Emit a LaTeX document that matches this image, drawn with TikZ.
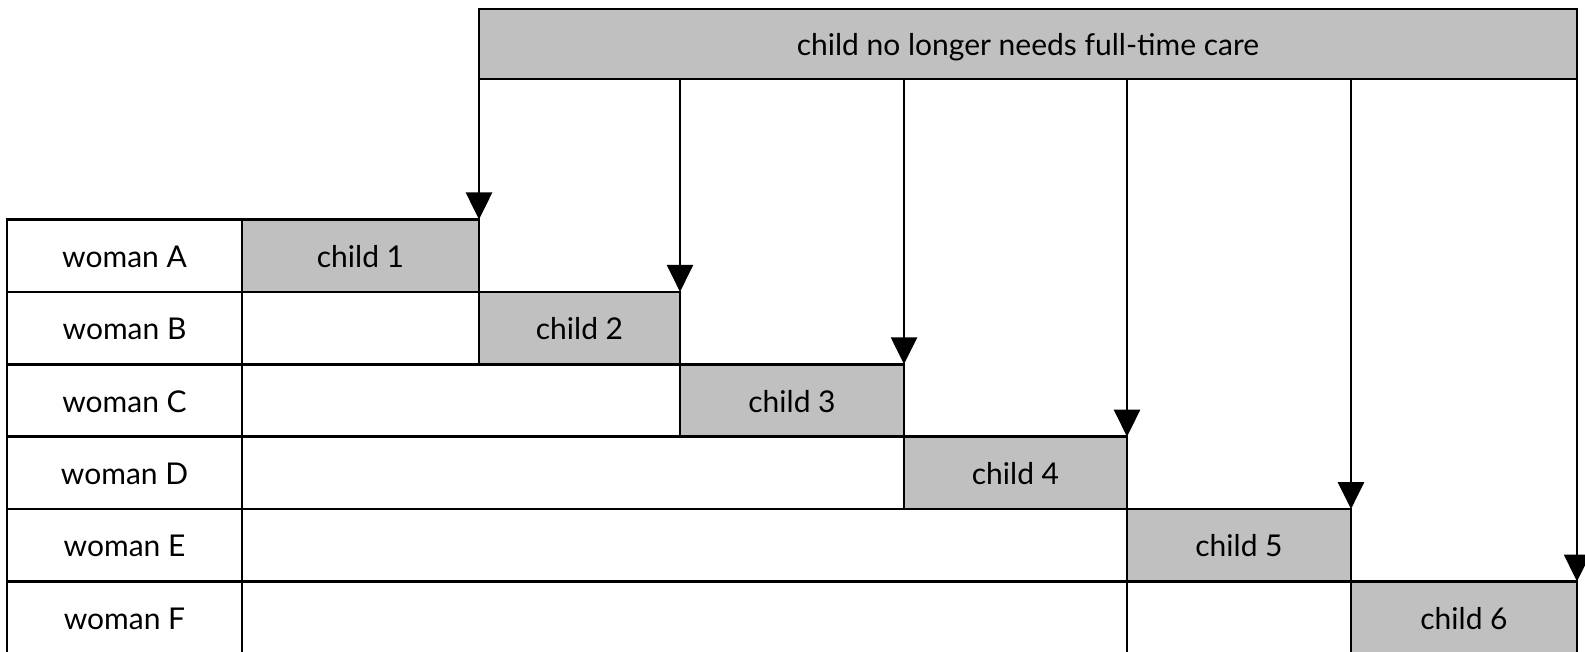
\documentclass[tikz,border=0pt]{standalone}
\usepackage{fontspec}
\setmainfont{Lato}
\usetikzlibrary{arrows.meta}
\definecolor{cellgrey}{RGB}{192,192,192}
\tikzset{
  cellbox/.style={draw=black, line width=2.6pt, minimum height=72.4pt, inner sep=0pt, outer sep=0pt, anchor=north west, font=\fontsize{30}{36}\selectfont, text height=25pt, text depth=2pt},
  greybox/.style={cellbox, fill=cellgrey},
  whitebox/.style={cellbox, fill=white},
  arr/.style={line width=2.6pt, -{Triangle[width=26pt,length=27pt]}}
}
\begin{document}
\begin{tikzpicture}[x=1pt,y=-1pt]
\useasboundingbox (0,0) rectangle (1585,652);
% top box
\node[greybox, minimum width=1098pt, minimum height=70pt] (top) at (479,9) {child no longer needs full-time care};
% row A
\node[whitebox, minimum width=235pt] (wA) at (7,219.5) {woman A};
\node[greybox, minimum width=237pt] (c1) at (242,219.5) {child 1};
% row B
\node[whitebox, minimum width=235pt] (wB) at (7,291.9) {woman B};
\node[whitebox, minimum width=237pt] (eB) at (242,291.9) {};
\node[greybox, minimum width=201pt] (c2) at (479,291.9) {child 2};
% row C
\node[whitebox, minimum width=235pt] (wC) at (7,364.3) {woman C};
\node[whitebox, minimum width=438pt] (eC) at (242,364.3) {};
\node[greybox, minimum width=224pt] (c3) at (680,364.3) {child 3};
% row D
\node[whitebox, minimum width=235pt] (wD) at (7,436.7) {woman D};
\node[whitebox, minimum width=662pt] (eD) at (242,436.7) {};
\node[greybox, minimum width=223pt] (c4) at (904,436.7) {child 4};
% row E
\node[whitebox, minimum width=235pt] (wE) at (7,509.1) {woman E};
\node[whitebox, minimum width=885pt] (eE) at (242,509.1) {};
\node[greybox, minimum width=224pt] (c5) at (1127,509.1) {child 5};
% row F
\node[whitebox, minimum width=235pt] (wF) at (7,581.5) {woman F};
\node[whitebox, minimum width=885pt] (eF) at (242,581.5) {};
\node[whitebox, minimum width=224pt] (gF) at (1127,581.5) {};
\node[greybox, minimum width=226pt] (c6) at (1351,581.5) {child 6};
% arrows
\foreach \c in {c1,c2,c3,c4,c5,c6}
  \draw[arr] (top.south -| \c.north east) -- (\c.north east);
\end{tikzpicture}
\end{document}
